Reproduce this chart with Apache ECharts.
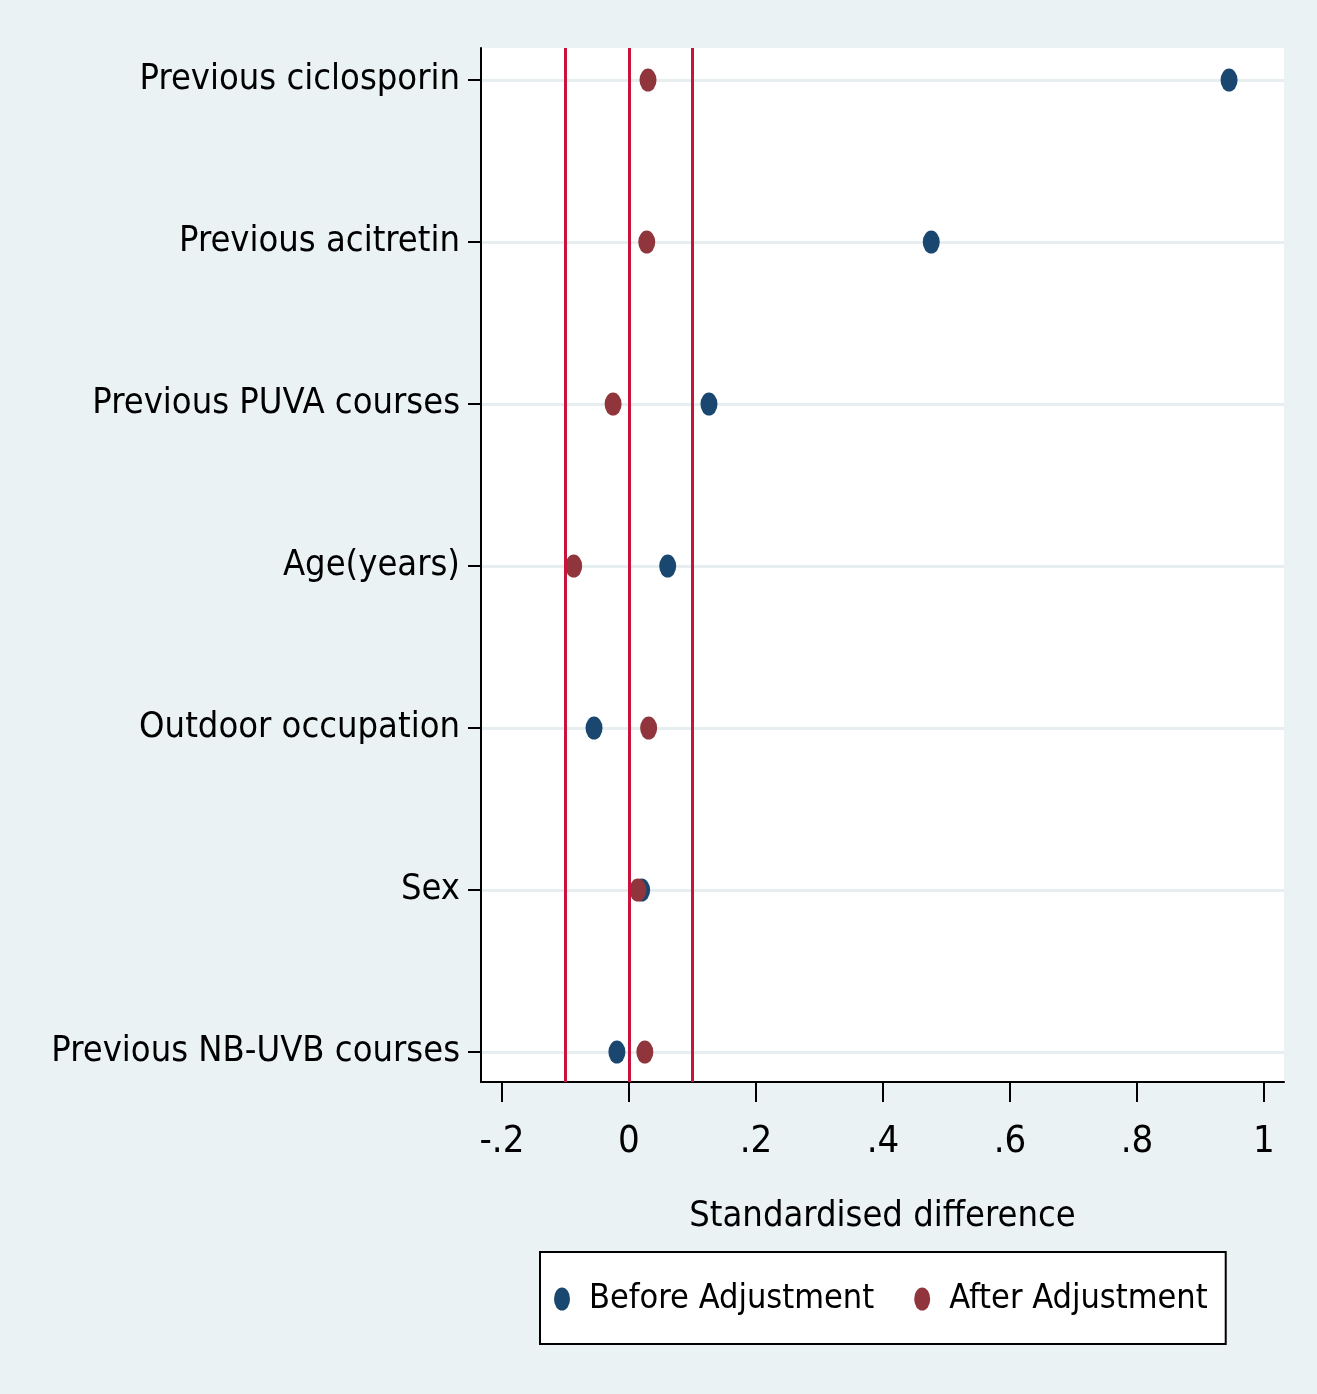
<!DOCTYPE html>
<html>
<head>
<meta charset="utf-8">
<script src="https://cdn.jsdelivr.net/npm/echarts@6/dist/echarts.min.js"></script>
<style>
html,body{margin:0;padding:0;background:#eaf2f3;}
#chart{width:1317px;height:1394px;}
</style>
</head>
<body>
<div id="chart"></div>
<script>
// Categories bottom (position 1) to top (position 7)
const categories = ['Previous NB-UVB courses','Sex','Outdoor occupation','Age(years)','Previous PUVA courses','Previous acitretin','Previous ciclosporin'];
const beforeAdj = [-0.019, 0.020, -0.055, 0.061, 0.126, 0.476, 0.945];
const afterAdj  = [0.025, 0.014, 0.031, -0.087, -0.025, 0.028, 0.030];
const refLines = [-0.1, 0, 0.1];
const xTicks = [-0.2, 0, 0.2, 0.4, 0.6, 0.8, 1];
const xTickLabels = ['-.2', '0', '.2', '.4', '.6', '.8', '1'];
const seriesNames = ['Before Adjustment', 'After Adjustment'];

const FONT = '"Liberation Sans Narrow", "Arial Narrow", "DejaVu Sans Condensed", sans-serif';
const NAVY = '#1a476f', MAROON = '#90353b', RED = '#c8143c';
const ELLIPSE = 'path://M50,0 A50,50 0 1,1 50,100 A50,50 0 1,1 50,0 Z';
const yPos = categories.map((c, i) => i + 1);

const chart = echarts.init(document.getElementById('chart'), null, {renderer: 'canvas'});
chart.setOption({
  animation: false,
  backgroundColor: '#eaf2f3',
  grid: {left: 481, right: 33, top: 48, bottom: 312, show: true, backgroundColor: '#ffffff', borderWidth: 0},
  xAxis: {
    type: 'value', min: -0.233, max: 1.0315,
    name: 'Standardised difference', nameLocation: 'middle', nameGap: 117,
    nameTextStyle: {fontFamily: FONT, fontSize: 36, color: '#000'},
    axisLine: {show: true, onZero: false, lineStyle: {color: '#000', width: 2}},
    axisTick: {show: true, customValues: xTicks, length: 20, lineStyle: {color: '#000', width: 2}},
    axisLabel: {
      customValues: xTicks, margin: 41, fontFamily: FONT, fontSize: 38, color: '#000',
      formatter: v => { const i = xTicks.findIndex(t => Math.abs(t - v) < 1e-9); return i >= 0 ? xTickLabels[i] : ''; }
    },
    splitLine: {show: false}
  },
  yAxis: {
    type: 'value', min: 0.815, max: 7.198,
    axisLine: {show: true, onZero: false, lineStyle: {color: '#000', width: 2}},
    axisTick: {show: true, customValues: yPos, length: 13, lineStyle: {color: '#000', width: 2}},
    axisLabel: {
      customValues: yPos, margin: 21, fontFamily: FONT, fontSize: 36, color: '#000',
      padding: [6, 0, 0, 0],
      formatter: v => categories[Math.round(v) - 1] || ''
    },
    splitLine: {show: true, lineStyle: {color: '#e6eef0', width: 3}}
  },
  legend: {
    left: 540, top: 1252, right: 20, orient: 'horizontal',
    padding: [30, 18, 28, 14], itemGap: 40,
    backgroundColor: '#ffffff', borderColor: '#000', borderWidth: 2,
    itemWidth: 16, itemHeight: 23, symbolKeepAspect: false,
    textStyle: {fontFamily: FONT, fontSize: 34, color: '#000', padding: [0, 0, 0, 14]},
    data: [{name: seriesNames[0], icon: ELLIPSE}, {name: seriesNames[1], icon: ELLIPSE}]
  },
  series: [
    {
      name: seriesNames[0], type: 'scatter', symbol: ELLIPSE, symbolSize: [17, 23],
      symbolKeepAspect: false,
      itemStyle: {color: NAVY, opacity: 1},
      data: beforeAdj.map((v, i) => [v, yPos[i]]),
      markLine: {
        silent: true, symbol: 'none', label: {show: false},
        lineStyle: {color: RED, width: 3, type: 'solid'},
        data: refLines.map(v => ({xAxis: v}))
      },
      z: 3
    },
    {
      name: seriesNames[1], type: 'scatter', symbol: ELLIPSE, symbolSize: [17, 23],
      symbolKeepAspect: false,
      itemStyle: {color: MAROON, opacity: 1},
      data: afterAdj.map((v, i) => [v, yPos[i]]),
      z: 4
    }
  ]
});
</script>
</body>
</html>
